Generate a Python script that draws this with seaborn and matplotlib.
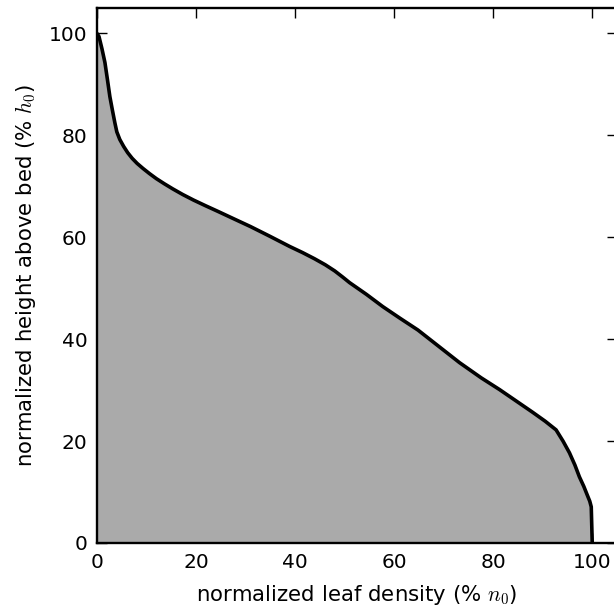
import matplotlib
matplotlib.use("Agg")
import matplotlib.pyplot as plt
import seaborn as sns
import pandas as pd

height = [100, 99.4, 97, 94.3, 91, 87.6, 85, 82.5, 80.7, 79.2, 77.8, 76.6, 75.5, 74.5,
          73.5, 72.5, 71.5, 70.5, 69.5, 68.4, 67.3, 66.2, 65.0, 63.5, 62.1, 60.2, 58.2,
          57.0, 55.8, 54.6, 53.4, 52.2, 51.1, 48.8, 46.4, 44.1, 41.8, 38.6, 35.4, 32.4,
          30.1, 27.9, 25.7, 23.9, 22.2, 20.0, 17.7, 15.3, 13.0, 11.1, 9.4, 8.2, 7.1, 0]
density = [0, 0.4, 1.0, 1.6, 2.1, 2.6, 3.1, 3.6, 4.0, 4.6, 5.4, 6.2, 7.1, 8.1,
           9.3, 10.6, 12.0, 13.6, 15.3, 17.3, 19.5, 21.9, 24.6, 27.9, 31.0, 34.9, 38.9,
           41.5, 43.9, 46.1, 48.0, 49.6, 51.0, 54.4, 57.7, 61.2, 64.8, 69.0, 73.2, 77.6,
           81.3, 84.6, 87.9, 90.5, 92.7, 94.1, 95.4, 96.5, 97.4, 98.3, 99.0, 99.5, 99.8, 100]
xticks = [0, 20, 40, 60, 80, 100]
yticks = [0, 20, 40, 60, 80, 100]

sns.set_style("ticks")
plt.rcParams['font.family'] = ['DejaVu Sans']
plt.rcParams['mathtext.fontset'] = 'cm'
plt.rcParams['text.color'] = 'black'
plt.rcParams['axes.labelcolor'] = 'black'
plt.rcParams['xtick.color'] = 'black'
plt.rcParams['ytick.color'] = 'black'

df = pd.DataFrame({"density": density, "height": height})

fig = plt.figure(figsize=(6.14, 6.16), dpi=100)
ax = fig.add_axes([97/614, 73/616, 520/614, 535/616])

ax.fill_betweenx(df["height"], 0, df["density"], color="#aaaaaa", linewidth=0)
sns.lineplot(data=df, x="density", y="height", sort=False, color="black",
             linewidth=2.6, ax=ax, solid_joinstyle="round", solid_capstyle="round")

ax.set_xlim(0, 105)
ax.set_ylim(0, 105)
ax.set_xticks(xticks)
ax.set_yticks(yticks)
ax.tick_params(direction="in", length=7, width=1, top=True, right=True,
               labelsize=14.5, pad=7, color="black", labelcolor="black")
for s in ax.spines.values():
    s.set_linewidth(1.7)
    s.set_color("black")
ax.set_xlabel(r"normalized leaf density (% $n_0$)", fontsize=15.3, labelpad=8, color="black")
ax.set_ylabel(r"normalized height above bed (% $h_0$)", fontsize=15.3, labelpad=8, color="black")

fig.savefig("out.png", dpi=100)
